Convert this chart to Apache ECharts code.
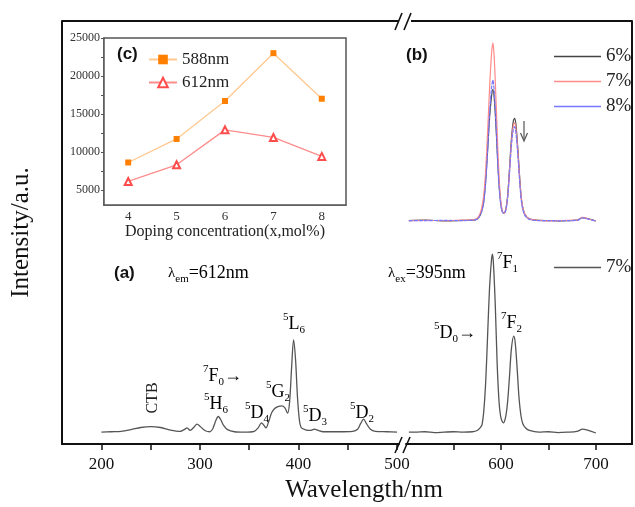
<!DOCTYPE html>
<html>
<head>
<meta charset="utf-8">
<script src="https://cdn.jsdelivr.net/npm/echarts@6/dist/echarts.min.js"></script>
<style>
  html, body { margin: 0; padding: 0; background: #fff; }
  #main { width: 635px; height: 507px; }
</style>
</head>
<body>
<div id="main"></div>
<script>
// (a) excitation spectrum, monitored at 612 nm
const excWave = [200, 210, 220, 230, 240, 250, 260, 270, 280, 284, 287, 290, 294, 297, 300, 305, 310, 313, 316, 318.5,
  321, 324, 328, 335, 345, 355, 359, 362.5, 365, 367, 370, 373, 377, 383, 386, 389, 391, 393, 395, 397,
  399, 401, 403, 408, 412, 416, 420, 425, 440, 455, 460, 463, 466, 469, 473, 478, 490, 500];
const excInt = [2.8, 2.9, 3.0, 3.4, 3.9, 4.1, 3.9, 3.3, 3.0, 3.4, 3.8, 3.2, 4.0, 4.7, 4.2, 3.2, 2.9, 3.6, 5.5, 6.5,
  5.8, 4.4, 3.4, 2.9, 2.8, 3.0, 3.8, 5.0, 4.4, 3.8, 5.5, 7.5, 8.6, 9.0, 8.6, 7.3, 10, 18, 24.6, 20,
  11, 5.5, 3.8, 3.3, 3.2, 3.5, 3.2, 2.9, 2.9, 3.0, 3.5, 4.8, 5.9, 4.8, 3.5, 3.0, 2.9, 2.8];

// (a) emission spectrum, excited at 395 nm
const emWave = [503, 510, 520, 530, 540, 550, 560, 570, 575, 578, 580, 582, 584, 586, 588, 590, 591, 592, 594, 596,
  598, 600, 602.5, 605, 607, 609, 611, 613.5, 615, 617, 619, 621, 623, 626, 630, 640, 650, 660, 670, 680,
  686, 692, 700];
const emInt = [2.8, 2.8, 2.9, 2.7, 2.8, 2.9, 2.8, 2.9, 3.2, 3.8, 4.5, 8, 15, 26, 37, 43.5, 44.9, 43, 33, 19,
  10, 6.2, 5.0, 6.5, 10, 16, 22.5, 25.5, 24, 18, 11, 6.8, 4.8, 3.8, 3.2, 2.8, 2.9, 2.7, 2.8, 3.0,
  3.5, 3.2, 2.6];

// (b) emission spectra for 6%, 7%, 8%
const bWave = [503, 520, 540, 560, 570, 575, 578, 580, 582, 584, 586, 588, 590, 591.5, 593, 595, 597, 599, 601, 603,
  605, 607, 609, 611, 613, 614.5, 616, 618, 620, 622, 625, 630, 640, 650, 660, 670, 680, 686, 692, 700];
const b6 = [5.4, 5.6, 5.3, 5.5, 5.6, 6.2, 8.0, 10.5, 15, 25, 39, 54, 64, 67.6, 63, 48, 30, 17, 10.5, 8.9,
  10.5, 17, 30, 44, 52.5, 53.9, 50, 38, 24, 14, 8.5, 6.2, 5.5, 5.4, 5.3, 5.4, 5.6, 6.8, 6.2, 5.2];
const b7 = [5.4, 5.5, 5.4, 5.6, 5.7, 6.5, 8.8, 12, 18, 30, 48, 68, 84, 89.7, 82, 60, 36, 19, 11, 8.9,
  10.5, 16.5, 29, 42, 50.5, 51.7, 48, 37, 23.5, 14, 8.5, 6.2, 5.5, 5.3, 5.4, 5.5, 5.6, 6.9, 6.3, 5.2];
const b8 = [5.4, 5.4, 5.5, 5.4, 5.6, 6.1, 7.8, 10, 14.5, 24, 39, 56, 68, 72, 66, 49, 29, 16, 10, 8.9,
  10.2, 16, 28, 41, 48.5, 49.9, 46, 35, 22, 13, 8, 6, 5.4, 5.4, 5.3, 5.4, 5.5, 6.7, 6.1, 5.2];

// (c) intensity vs doping concentration
const doping = [4, 5, 6, 7, 8];
const c588 = [8600, 11700, 16700, 23000, 17000];
const c612 = [6100, 8300, 12900, 11900, 9400];

// tick labels
const leftTicks = [200, 250, 300, 350, 400, 450, 500];
const leftLabels = [200, 300, 400, 500];
const rightTicks = [550, 600, 650, 700];
const rightLabels = [600, 700];
const insetXTicks = [4, 4.5, 5, 5.5, 6, 6.5, 7, 7.5, 8];
const insetYTicks = [5000, 7500, 10000, 12500, 15000, 17500, 20000, 22500, 25000];
const insetYLabels = [5000, 10000, 15000, 20000, 25000];

const SERIF = "'Liberation Serif', 'Times New Roman', serif";
const SANS = "'Liberation Sans', Arial, sans-serif";

function zip(xs, ys) {
  return xs.map((x, i) => [x, ys[i]]);
}

const chart = echarts.init(document.getElementById('main'), null, { renderer: 'canvas' });

const rich = {
  m: { fontSize: 18, fontFamily: SERIF, color: '#222', lineHeight: 24 },
  l: { fontSize: 15, fontFamily: SERIF, color: '#222', lineHeight: 24 },
  sup: { fontSize: 11, fontFamily: SERIF, color: '#222', lineHeight: 12, verticalAlign: 'top' },
  sub: { fontSize: 11, fontFamily: SERIF, color: '#222', lineHeight: 12, verticalAlign: 'bottom' }
};

function note(x, y, text) {
  return {
    type: 'text', x: x, y: y, z: 50,
    style: { text: text, rich: rich, verticalAlign: 'middle', align: 'left' }
  };
}

function plain(x, y, text, font, extra) {
  return Object.assign({
    type: 'text', x: x, y: y, z: 50,
    style: { text: text, font: font, fill: '#111', verticalAlign: 'middle', align: 'left' }
  }, extra || {});
}

function seg(points, width, color) {
  return {
    type: 'polyline', z: 50,
    shape: { points: points },
    style: { stroke: color || '#111', lineWidth: width || 2, fill: null }
  };
}

const graphics = [
  // top frame with break
  seg([[62, 21], [398, 21]]),
  seg([[411, 21], [632, 21]]),
  seg([[395, 30], [402, 13]], 1.6),
  seg([[404, 30], [411, 13]], 1.6),
  // bottom break marks
  seg([[395, 453], [402, 437]], 1.6),
  seg([[403, 453], [410, 437]], 1.6),
  // arrow in (b)
  seg([[524, 121], [524, 140]], 1.2, '#555'),
  seg([[520.5, 133], [524, 141], [527.5, 133]], 1.2, '#555'),
  // panel tags
  plain(114, 273, '(a)', 'bold 17px ' + SANS),
  plain(406, 55, '(b)', 'bold 17px ' + SANS),
  plain(117, 54, '(c)', 'bold 17px ' + SANS),
  note(168, 273, '{l|λ}{sub|em}{m|=612nm}'),
  note(388, 273, '{l|λ}{sub|ex}{m|=395nm}'),
  plain(153, 398, 'CTB', '16px ' + SERIF, { rotation: Math.PI / 2, style: { text: 'CTB', font: '16px ' + SERIF, fill: '#222', align: 'center', verticalAlign: 'middle' } }),
  note(203, 376, '{sup|7}{m|F}{sub|0}{m|→}'),
  note(204, 404, '{sup|5}{m|H}{sub|6}'),
  note(245, 413, '{sup|5}{m|D}{sub|4}'),
  note(266, 392, '{sup|5}{m|G}{sub|2}'),
  note(283, 324, '{sup|5}{m|L}{sub|6}'),
  note(303, 416, '{sup|5}{m|D}{sub|3}'),
  note(350, 413, '{sup|5}{m|D}{sub|2}'),
  note(497, 263, '{sup|7}{m|F}{sub|1}'),
  note(434, 333, '{sup|5}{m|D}{sub|0}{m|→}'),
  note(501, 323, '{sup|7}{m|F}{sub|2}'),
  // x axis title
  plain(364, 490, 'Wavelength/nm', '25px ' + SERIF, { style: { text: 'Wavelength/nm', font: '25px ' + SERIF, fill: '#111', align: 'center', verticalAlign: 'middle' } })
];

const specLine = { color: '#555', width: 1.3 };

const option = {
  backgroundColor: '#fff',
  animation: false,
  grid: [
    { left: 62, top: 21, width: 337, height: 423 },
    { left: 406, top: 21, width: 226, height: 423 },
    { left: 406, top: 21, width: 226, height: 211 },
    { left: 104, top: 38, width: 242, height: 167, show: true, borderColor: '#555', borderWidth: 1.5, backgroundColor: '#fff', z: 10 }
  ],
  legend: [
    {
      data: ['588nm', '612nm'], orient: 'vertical', left: 143, top: 46, itemWidth: 28, itemHeight: 12,
      itemGap: 6, z: 20, textStyle: { fontFamily: SERIF, fontSize: 17, color: '#222' }
    },
    {
      data: ['6%', '7%', '8%'], orient: 'vertical', left: 549, top: 42, itemWidth: 47, itemHeight: 1.5,
      icon: 'rect', itemGap: 6, textStyle: { fontFamily: SERIF, fontSize: 19, color: '#222', lineHeight: 18 }
    },
    {
      data: ['a7'], left: 549, top: 253, itemWidth: 47, itemHeight: 1.5, icon: 'rect',
      formatter: function () { return '7%'; },
      textStyle: { fontFamily: SERIF, fontSize: 19, color: '#222', lineHeight: 18 }
    }
  ],
  xAxis: [
    {
      gridIndex: 0, type: 'value', min: 160, max: 502,
      axisLine: { lineStyle: { color: '#111', width: 2 } },
      axisTick: { customValues: leftTicks, length: 6, lineStyle: { color: '#111', width: 1.5 } },
      axisLabel: { customValues: leftLabels, margin: 12, fontFamily: SERIF, fontSize: 17, color: '#111' },
      splitLine: { show: false }
    },
    {
      gridIndex: 1, type: 'value', min: 500, max: 738,
      axisLine: { lineStyle: { color: '#111', width: 2 } },
      axisTick: { customValues: rightTicks, length: 6, lineStyle: { color: '#111', width: 1.5 } },
      axisLabel: { customValues: rightLabels, margin: 12, fontFamily: SERIF, fontSize: 17, color: '#111' },
      splitLine: { show: false }
    },
    { gridIndex: 2, type: 'value', min: 500, max: 738, show: false },
    {
      gridIndex: 3, type: 'value', min: 3.5, max: 8.5,
      name: 'Doping concentration(x,mol%)', nameLocation: 'middle', nameGap: 18,
      nameTextStyle: { fontFamily: SERIF, fontSize: 16, color: '#222' },
      axisLine: { lineStyle: { color: '#555', width: 1.5 } },
      axisTick: { customValues: insetXTicks, inside: true, length: 4, lineStyle: { color: '#555' } },
      axisLabel: { customValues: doping, margin: 5, fontFamily: SERIF, fontSize: 13, color: '#333' },
      splitLine: { show: false }
    }
  ],
  yAxis: [
    {
      gridIndex: 0, type: 'value', min: 0, max: 100,
      name: 'Intensity/a.u.', nameLocation: 'middle', nameGap: 28, nameRotate: 90,
      nameTextStyle: { fontFamily: SERIF, fontSize: 25, color: '#111' },
      axisLine: { show: true, lineStyle: { color: '#111', width: 2 } },
      axisTick: { show: false }, axisLabel: { show: false }, splitLine: { show: false }
    },
    {
      gridIndex: 1, type: 'value', min: 0, max: 100, position: 'right',
      axisLine: { show: true, lineStyle: { color: '#111', width: 2 } },
      axisTick: { show: false }, axisLabel: { show: false }, splitLine: { show: false }
    },
    { gridIndex: 2, type: 'value', min: 0, max: 100, show: false },
    {
      gridIndex: 3, type: 'value', min: 3000, max: 25000,
      axisLine: { show: true, lineStyle: { color: '#555', width: 1.5 } },
      axisTick: { customValues: insetYTicks, length: 3, lineStyle: { color: '#555' } },
      axisLabel: {
        customValues: insetYLabels, margin: 4, fontFamily: SERIF, fontSize: 12, color: '#333',
        formatter: function (v) { return String(v); }
      },
      splitLine: { show: false }
    }
  ],
  series: [
    {
      name: 'a7', type: 'line', xAxisIndex: 0, yAxisIndex: 0, data: zip(excWave, excInt),
      smooth: 0.3, symbol: 'none', lineStyle: specLine, itemStyle: { color: '#555' }
    },
    {
      name: 'a7', type: 'line', xAxisIndex: 1, yAxisIndex: 1, data: zip(emWave, emInt),
      smooth: 0.3, symbol: 'none', lineStyle: specLine, itemStyle: { color: '#555' }
    },
    {
      name: '6%', type: 'line', xAxisIndex: 2, yAxisIndex: 2, data: zip(bWave, b6),
      smooth: 0.3, symbol: 'none', lineStyle: { color: '#444', width: 1.2 }, itemStyle: { color: '#444' }
    },
    {
      name: '7%', type: 'line', xAxisIndex: 2, yAxisIndex: 2, data: zip(bWave, b7),
      smooth: 0.3, symbol: 'none', lineStyle: { color: '#ff8a8a', width: 1.2 }, itemStyle: { color: '#ff8a8a' }
    },
    {
      name: '8%', type: 'line', xAxisIndex: 2, yAxisIndex: 2, data: zip(bWave, b8),
      smooth: 0.3, symbol: 'none', lineStyle: { color: '#7878ff', width: 1.2, type: [4, 1] }, itemStyle: { color: '#7878ff' }
    },
    {
      name: '588nm', type: 'line', xAxisIndex: 3, yAxisIndex: 3, data: zip(doping, c588), z: 20,
      symbol: 'rect', symbolSize: 6, lineStyle: { color: '#ffc890', width: 1.3 }, itemStyle: { color: '#ff7f00' }
    },
    {
      name: '612nm', type: 'line', xAxisIndex: 3, yAxisIndex: 3, data: zip(doping, c612), z: 20,
      symbol: 'emptyTriangle', symbolSize: 7, lineStyle: { color: '#ff8c8c', width: 1.3 },
      itemStyle: { color: '#ff4d4d', borderColor: '#ff4d4d', borderWidth: 1 }
    }
  ],
  graphic: graphics
};

try {
  chart.setOption(option);
} catch (error) {
  console.error('Error setting chart option:', error);
}
</script>
</body>
</html>
